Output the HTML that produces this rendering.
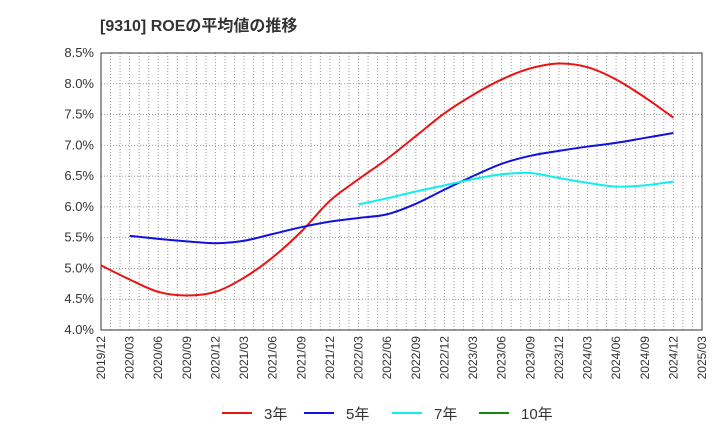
<!DOCTYPE html>
<html><head><meta charset="utf-8"><style>
body{margin:0;background:#fff;font-family:"Liberation Sans","Noto Sans CJK JP",sans-serif;}
svg text{font-family:"Liberation Sans","Noto Sans CJK JP",sans-serif;}
</style></head><body>
<svg id="c" width="720" height="440" xmlns="http://www.w3.org/2000/svg">
<text x="100" y="31" font-size="16" font-weight="bold" fill="#333">[9310]  ROEの平均値の推移</text>
<g id="grid"></g><g id="axes"></g><g id="series"></g><g id="legend"></g>
</svg>
<script>
const xLabels=["2019/12","2020/03","2020/06","2020/09","2020/12","2021/03","2021/06","2021/09","2021/12","2022/03","2022/06","2022/09","2022/12","2023/03","2023/06","2023/09","2023/12","2024/03","2024/06","2024/09","2024/12","2025/03"];
const yTicks=[4.0,4.5,5.0,5.5,6.0,6.5,7.0,7.5,8.0,8.5];
const roe3=[5.05,4.82,4.62,4.56,4.62,4.85,5.18,5.6,6.1,6.45,6.78,7.15,7.52,7.82,8.07,8.25,8.33,8.27,8.07,7.78,7.45];
const roe5=[null,5.53,5.48,5.44,5.41,5.45,5.56,5.67,5.76,5.82,5.88,6.05,6.28,6.5,6.7,6.83,6.91,6.98,7.04,7.12,7.2];
const roe7=[null,null,null,null,null,null,null,null,null,6.04,6.14,6.25,6.35,6.45,6.53,6.55,6.47,6.39,6.33,6.35,6.41];
const roe10=[];
const L=101,R=702,T=53,B=330;
const X=i=>L+(R-L)*i/(xLabels.length-1);
const Y=v=>B-(v-4.0)/(4.5)*(B-T);
const ns="http://www.w3.org/2000/svg";
function mk(p,t,a){const e=document.createElementNS(ns,t);for(const k in a)e.setAttribute(k,a[k]);p.appendChild(e);return e;}
const g=document.getElementById('grid'),ax=document.getElementById('axes'),s=document.getElementById('series'),lg=document.getElementById('legend');
for(let m=1;m<(xLabels.length-1)*3;m++){const x=L+(R-L)*m/((xLabels.length-1)*3);
const l=mk(g,'line',{x1:x,x2:x,y1:T,y2:B,stroke:'#999','stroke-dasharray':'1,2','stroke-width':1});

}
yTicks.forEach(v=>{const l=mk(g,'line',{x1:L,x2:R,y1:Y(v),y2:Y(v),stroke:'#999','stroke-dasharray':'1,2'});


const t=mk(ax,'text',{x:L-7,y:Y(v)+4,'text-anchor':'end','font-size':13,fill:'#333'});t.textContent=v.toFixed(1)+'%';

});
const fr=mk(ax,'rect',{x:L,y:T,width:R-L,height:B-T,fill:'none',stroke:'#333'});


xLabels.forEach((lab,i)=>{const t=mk(ax,'text',{transform:`translate(${X(i)+4},${B+6}) rotate(-90)`,'text-anchor':'end','font-size':12,fill:'#333'});t.textContent=lab;

});
function path(arr){const pts=[];arr.forEach((v,i)=>{if(v!=null)pts.push([X(i),Y(v)]);});if(pts.length<2)return'';
let d=`M${pts[0][0]},${pts[0][1]}`;for(let i=0;i<pts.length-1;i++){const p0=pts[i-1]||pts[i],p1=pts[i],p2=pts[i+1],p3=pts[i+2]||p2;
d+=` C${p1[0]+(p2[0]-p0[0])/6},${p1[1]+(p2[1]-p0[1])/6} ${p2[0]-(p3[0]-p1[0])/6},${p2[1]-(p3[1]-p1[1])/6} ${p2[0]},${p2[1]}`;}return d;}
const ser=[[roe3,'#ee1111','3年','line-3y'],[roe5,'#1111dd','5年','line-5y'],[roe7,'#11eeee','7年','line-7y'],[roe10,'#118811','10年','line-10y']];
const lx=[222,304,392,479];
ser.forEach(([a,c,n,id],k)=>{const d=path(a);if(d){const p=mk(s,'path',{d:d,fill:'none',stroke:c,'stroke-width':2});

}
const l=mk(lg,'line',{x1:lx[k],x2:lx[k]+30,y1:413,y2:413,stroke:c,'stroke-width':2});


const t=mk(lg,'text',{x:lx[k]+42,y:419,'font-size':15,fill:'#333'});t.textContent=n;

});
</script>
</body></html>
